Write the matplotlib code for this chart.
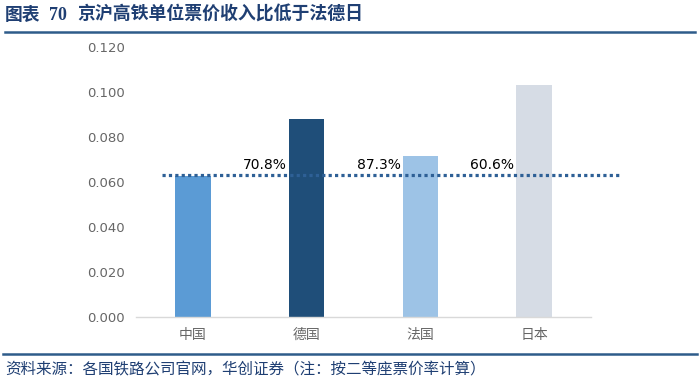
import matplotlib
matplotlib.use("Agg")
import matplotlib.pyplot as plt
from matplotlib.lines import Line2D

plt.rcParams['font.family'] = ['Noto Sans CJK SC', 'DejaVu Sans']

categories = ["中国", "德国", "法国", "日本"]
values = [0.0625, 0.0882, 0.0716, 0.1031]
ref_value = 0.0633
ratio_labels = ["70.8%", "87.3%", "60.6%"]
yticks = [0.000, 0.020, 0.040, 0.060, 0.080, 0.100, 0.120]
colors = ["#5B9BD5", "#1F4E79", "#9DC3E6", "#D6DCE5"]

title_head = "图表"
title_num = "70"
title_body = "京沪高铁单位票价收入比低于法德日"
source = "资料来源：各国铁路公司官网，华创证券（注：按二等座票价率计算）"

fig = plt.figure(figsize=(7, 3.9), dpi=100)
ax = fig.add_axes([136/700, 1-317/390, (591-136)/700, (317-47)/390])

x = list(range(len(categories)))
ax.bar(x, values, width=0.31, color=colors, zorder=2)
ax.set_xlim(-0.5, 3.5)
ax.set_ylim(0, 0.12)
ax.set_yticks(yticks)
ax.set_yticklabels([f"{v:.3f}" for v in yticks], family=['DejaVu Sans'], fontsize=9.5, color="#666666")
ax.set_xticks(x)
ax.set_xticklabels(categories, fontsize=10, color="#666666")
ax.tick_params(axis='both', length=0, pad=8)
for s in ['top', 'right', 'left']:
    ax.spines[s].set_visible(False)
ax.spines['bottom'].set_color("#D9D9D9")
ax.spines['bottom'].set_linewidth(1)

# dotted reference line (China level)
ax.plot([-0.27, 3.755], [ref_value, ref_value], color="#2E6096", linewidth=2.3,
        linestyle=(0, (1, 1)), clip_on=False, zorder=3)

for i, lab in enumerate(ratio_labels):
    ax.text(i + 1 - 0.175, 0.0676, lab, ha='right', va='center', fontsize=10,
            family=['DejaVu Sans'], color="#000000", zorder=4)

# header/title
tc = "#1F3F73"
ty = 1 - 15/390
fig.text(5/700, ty, title_head, ha='left', va='center', fontsize=12.8,
         fontweight='bold', color=tc)
fig.text(49/700, ty, title_num, ha='left', va='center', fontsize=13,
         fontweight='bold', family=['Liberation Serif'], color=tc)
fig.text(77/700, ty, title_body, ha='left', va='center', fontsize=12.9,
         fontweight='bold', color=tc)
fig.add_artist(Line2D([5/700, 695/700], [1-32/390, 1-32/390], color="#2E5C8A", linewidth=1.8))
fig.add_artist(Line2D([3/700, 697/700], [1-354/390, 1-354/390], color="#2E5C8A", linewidth=1.8))
fig.text(5/700, 1-370/390, source, ha='left', va='center', fontsize=11.2,
         color=tc)

fig.savefig("out.png", dpi=100)
